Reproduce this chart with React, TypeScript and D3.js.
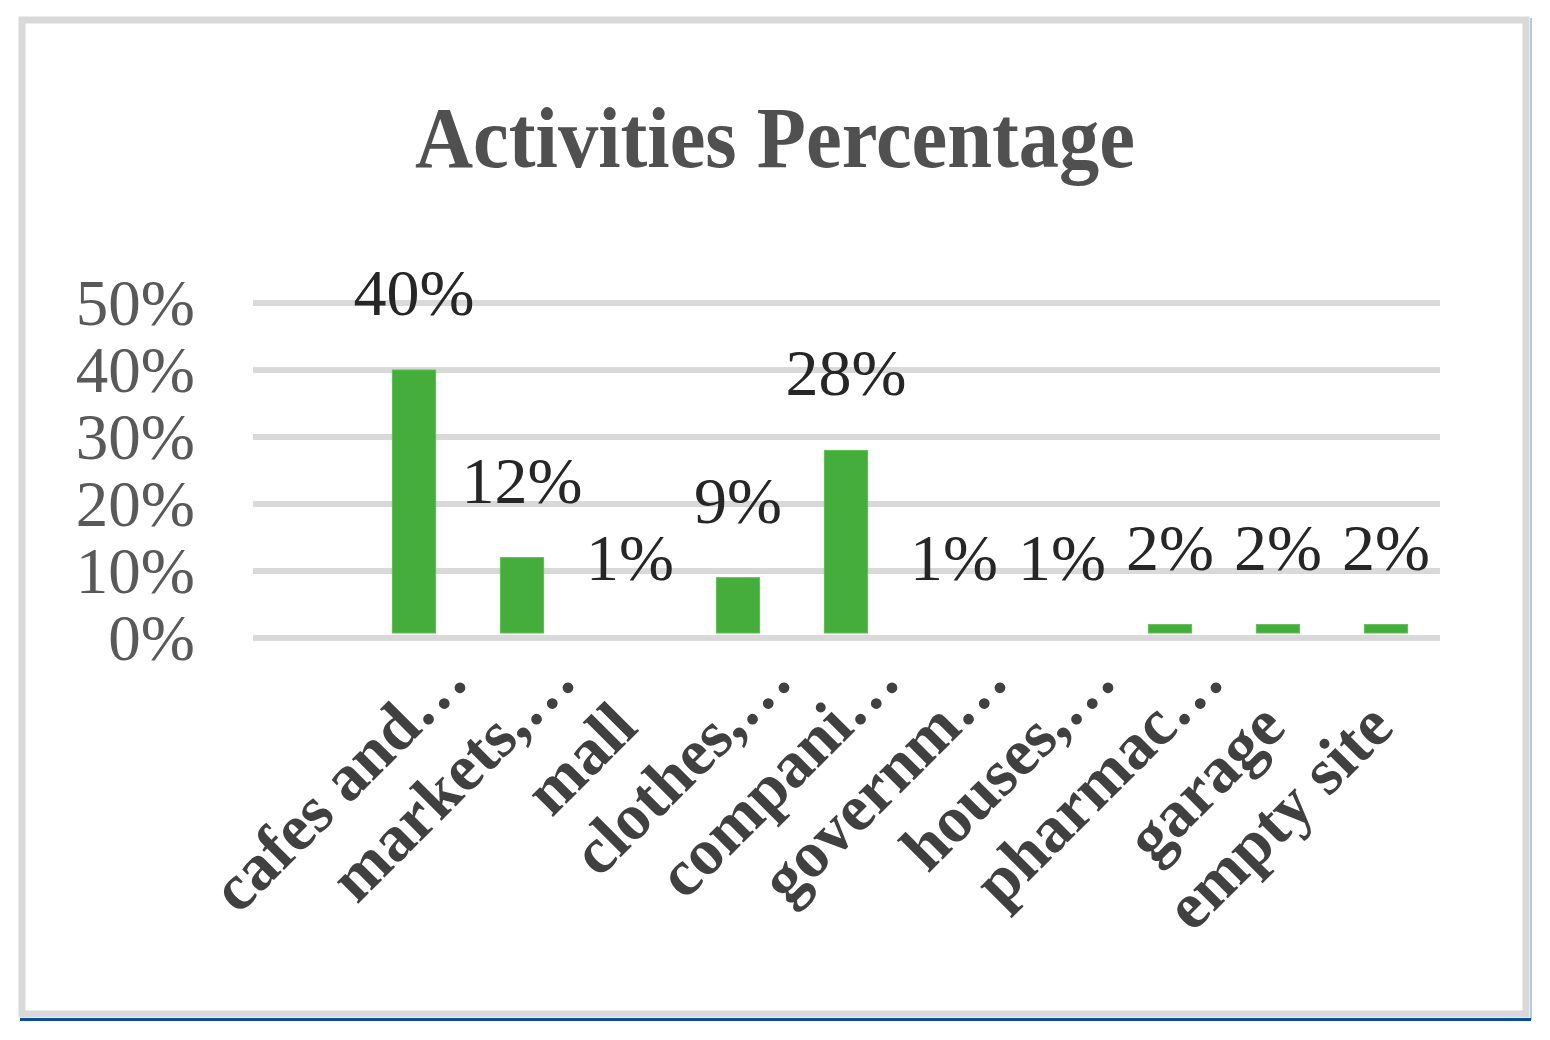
import React from "react";
import * as d3 from "d3";

const categories = [
  "cafes and",
  "markets,",
  "mall",
  "clothes,",
  "compani",
  "governm",
  "houses,",
  "pharmac",
  "garage",
  "empty site",
];
const truncated = [true, true, false, true, true, true, true, true, false, false];
const values = [40, 12, 0.5, 9, 28, 0.5, 0.5, 2, 2, 2];
const yTicks = [0, 10, 20, 30, 40, 50];
const title = "Activities Percentage";

const W = 1550;
const H = 1040;
const FONT = "'Liberation Serif', 'Times New Roman', serif";

export default function App() {
  const x = d3
    .scaleBand<string>()
    .domain(categories)
    .range([360, 1440])
    .paddingInner(0.6)
    .paddingOuter(0.3);
  const y = d3.scaleLinear().domain([0, 50]).range([638, 303]);
  const fmt = (v: number) => `${Math.round(v)}%`;
  const labelSize = 66;

  return (
    <svg
      width={W}
      height={H}
      style={{ position: "absolute", left: 0, top: 0, background: "#fff" }}
    >
      {/* outer frame */}
      <rect x={0} y={0} width={W} height={H} fill="#fff" />
      <rect x={22} y={20} width={1504} height={994} fill="#fff" stroke="#d9d9d9" strokeWidth={7} />
      <line x1={1531} x2={1531} y1={18} y2={1020} stroke="#b9c9e3" strokeWidth={2} />
      <line x1={20} x2={1531} y1={1019.5} y2={1019.5} stroke="#0b4f9c" strokeWidth={3} />

      {/* title */}
      <text
        x={775}
        y={167}
        textAnchor="middle"
        fontFamily={FONT}
        fontWeight="bold"
        fontSize={86}
        fill="#505050"
        textLength={720}
        lengthAdjust="spacingAndGlyphs"
      >
        {title}
      </text>

      {/* gridlines */}
      {yTicks.map((t) => (
        <line
          key={"g" + t}
          x1={253}
          x2={1440}
          y1={y(t)}
          y2={y(t)}
          stroke="#d9d9d9"
          strokeWidth={6}
        />
      ))}

      {/* y tick labels */}
      {yTicks.map((t) => (
        <text
          key={"yl" + t}
          x={195}
          y={y(t)}
          dy="0.34em"
          textAnchor="end"
          fontFamily={FONT}
          fontSize={65}
          fill="#595959"
        >
          {`${t}%`}
        </text>
      ))}

      {/* bars */}
      {categories.map((c, i) => {
        const top = y(values[i]);
        const bottom = y(0) - 5;
        const h = Math.max(0, bottom - top);
        if (h <= 0) return null;
        return (
          <rect
            key={"b" + c}
            x={x(c)}
            y={top}
            width={x.bandwidth()}
            height={h}
            fill="#45ad3b"
            stroke="#5cc052"
            strokeWidth={1}
          />
        );
      })}

      {/* data labels */}
      {categories.map((c, i) => (
        <text
          key={"dl" + c}
          x={(x(c) as number) + x.bandwidth() / 2}
          y={y(values[i]) - 55}
          textAnchor="middle"
          fontFamily={FONT}
          fontSize={66}
          fill="#262626"
        >
          {fmt(values[i])}
        </text>
      ))}

      {/* category labels */}
      {categories.map((c, i) => {
        const cx = (x(c) as number) + x.bandwidth() / 2 + 10;
        const cy = 730;
        return (
          <g key={"xl" + c} transform={`translate(${cx},${cy}) rotate(-45)`}>
            <text
              x={0}
              y={0}
              textAnchor="end"
              fontFamily={FONT}
              fontWeight="bold"
              fontSize={labelSize}
              fill="#404040"
            >
              {c}
            </text>
            {truncated[i] && (
              <text
                x={0}
                y={0}
                textAnchor="start"
                fontFamily={FONT}
                fontWeight="bold"
                fontSize={labelSize}
                fill="#404040"
              >
                {"…"}
              </text>
            )}
          </g>
        );
      })}
    </svg>
  );
}
